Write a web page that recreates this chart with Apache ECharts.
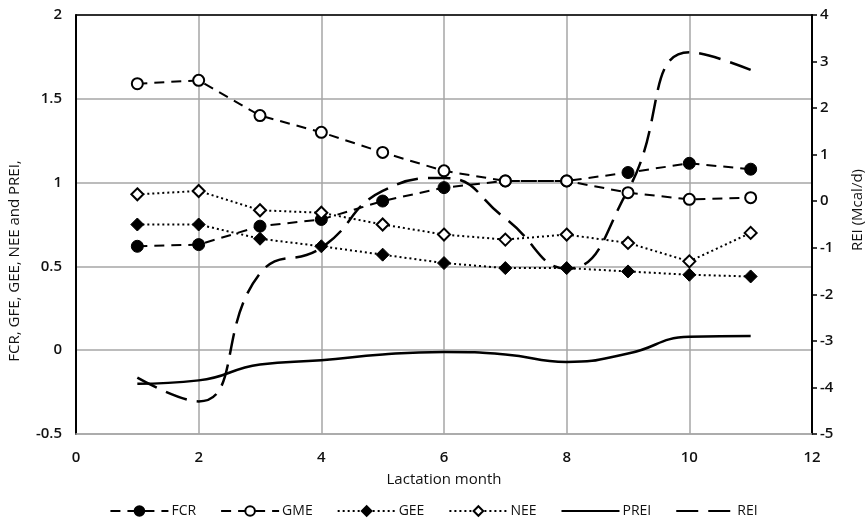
<!DOCTYPE html>
<html>
<head>
<meta charset="utf-8">
<script src="https://cdn.jsdelivr.net/npm/echarts@6/dist/echarts.min.js"></script>
<style>html,body{margin:0;padding:0;background:#fff}#c{width:867px;height:526px}</style>
</head>
<body>
<div id="c"></div>
<script>
const months = [1, 2, 3, 4, 5, 6, 7, 8, 9, 10, 11];
const FCR  = [0.62, 0.63, 0.74, 0.78, 0.89, 0.97, 1.01, 1.01, 1.06, 1.115, 1.08];
const GME  = [1.59, 1.61, 1.40, 1.30, 1.18, 1.07, 1.01, 1.01, 0.94, 0.90, 0.91];
const GEE  = [0.75, 0.75, 0.665, 0.62, 0.57, 0.52, 0.49, 0.49, 0.47, 0.45, 0.44];
const NEE  = [0.93, 0.95, 0.835, 0.82, 0.75, 0.69, 0.66, 0.69, 0.64, 0.53, 0.70];
const PREI = [-0.20, -0.18, -0.085, -0.06, -0.025, -0.01, -0.025, -0.07, -0.02, 0.08, 0.085];
const REI  = [-3.79, -4.30, -1.55, -1.0, 0.22, 0.5, -0.37, -1.45, 0.24, 3.2, 2.82];
const xTicks = [0, 2, 4, 6, 8, 10, 12];
const leftTicks = [-0.5, 0, 0.5, 1, 1.5, 2];
const rightTicks = [-5, -4, -3, -2, -1, 0, 1, 2, 3, 4];

const pairs = arr => months.map((m, i) => [m, arr[i]]);
const font = '"Open Sans", "Noto Sans", sans-serif';
const black = '#000';
const grid = '#a6a6a6';
const tickLabel = { fontFamily: font, fontSize: 15, fontWeight: 600, color: '#111' };

const chart = echarts.init(document.getElementById('c'));
chart.setOption({
  animation: false,
  textStyle: { fontFamily: font },
  grid: { left: 76, right: 55, top: 15, bottom: 92, containLabel: false },
  legend: {
    bottom: 3,
    left: 'center',
    itemWidth: 58,
    itemHeight: 12,
    itemGap: 24,
    textStyle: { fontFamily: font, fontSize: 14, color: '#111', padding: [0, 0, 0, -2] },
    data: [
      { name: 'FCR' }, { name: 'GME' }, { name: 'GEE' }, { name: 'NEE' },
      { name: 'PREI', itemStyle: { opacity: 0 } },
      { name: 'REI', itemStyle: { opacity: 0 } }
    ]
  },
  xAxis: [{
    type: 'value',
    min: xTicks[0], max: xTicks[xTicks.length - 1], interval: 2,
    name: 'Lactation month',
    nameLocation: 'middle',
    nameGap: 38,
    nameTextStyle: { fontFamily: font, fontSize: 15, color: '#111' },
    axisLine: { show: true, onZero: false, lineStyle: { color: grid, width: 1.5 } },
    axisTick: { show: false },
    axisLabel: Object.assign({ margin: 16 }, tickLabel),
    splitLine: { show: true, lineStyle: { color: grid, width: 1.5 } }
  }, {
    type: 'value', position: 'top',
    min: xTicks[0], max: xTicks[xTicks.length - 1], interval: 2,
    axisLine: { show: true, onZero: false, lineStyle: { color: black, width: 1.5 } },
    axisTick: { show: false }, axisLabel: { show: false }, splitLine: { show: false }
  }],
  yAxis: [{
    type: 'value',
    min: leftTicks[0], max: leftTicks[leftTicks.length - 1], interval: 0.5,
    axisLine: { show: true, onZero: false, lineStyle: { color: black, width: 2 } },
    axisTick: { show: false },
    axisLabel: Object.assign({ margin: 14 }, tickLabel),
    splitLine: { show: true, lineStyle: { color: grid, width: 1.5 } }
  }, {
    type: 'value', position: 'right',
    min: rightTicks[0], max: rightTicks[rightTicks.length - 1], interval: 1,
    axisLine: { show: true, onZero: false, lineStyle: { color: black, width: 2 } },
    axisTick: { show: true, inside: false, length: 5, lineStyle: { color: black, width: 1.5 } },
    axisLabel: Object.assign({ margin: 8 }, tickLabel),
    splitLine: { show: false }
  }],
  graphic: [{
    type: 'text',
    x: 15, y: 261, rotation: Math.PI / 2,
    style: { text: 'FCR, GFE, GEE, NEE and PREI,', fontFamily: font, fontSize: 15, fill: '#111', textAlign: 'center', textVerticalAlign: 'middle' }
  }, {
    type: 'text',
    x: 858, y: 210, rotation: Math.PI / 2,
    style: { text: 'REI (Mcal/d)', fontFamily: font, fontSize: 15, fill: '#111', textAlign: 'center', textVerticalAlign: 'middle' }
  }],
  series: [{
    name: 'FCR', type: 'line', data: pairs(FCR), yAxisIndex: 0,
    symbol: 'circle', symbolSize: 12,
    itemStyle: { color: black, borderColor: black, borderWidth: 1 },
    lineStyle: { color: black, width: 2, type: [10, 7] }
  }, {
    name: 'GME', type: 'line', data: pairs(GME), yAxisIndex: 0,
    symbol: 'emptyCircle', symbolSize: 11,
    itemStyle: { color: black, borderColor: black, borderWidth: 1.6 },
    lineStyle: { color: black, width: 2, type: [10, 7] }
  }, {
    name: 'GEE', type: 'line', data: pairs(GEE), yAxisIndex: 0,
    symbol: 'diamond', symbolSize: 13,
    itemStyle: { color: black, borderColor: black, borderWidth: 1 },
    lineStyle: { color: black, width: 2, type: [2, 3] }
  }, {
    name: 'NEE', type: 'line', data: pairs(NEE), yAxisIndex: 0,
    symbol: 'emptyDiamond', symbolSize: 12,
    itemStyle: { color: black, borderColor: black, borderWidth: 1.5 },
    lineStyle: { color: black, width: 2, type: [2, 3] }
  }, {
    name: 'PREI', type: 'line', data: pairs(PREI), yAxisIndex: 0,
    symbol: 'none', smooth: 0.5,
    itemStyle: { color: black },
    lineStyle: { color: black, width: 2.5, type: 'solid' }
  }, {
    name: 'REI', type: 'line', data: pairs(REI), yAxisIndex: 1,
    symbol: 'none', smooth: 0.5,
    itemStyle: { color: black },
    lineStyle: { color: black, width: 2.5, type: [22, 10] }
  }]
});
</script>
</body>
</html>
